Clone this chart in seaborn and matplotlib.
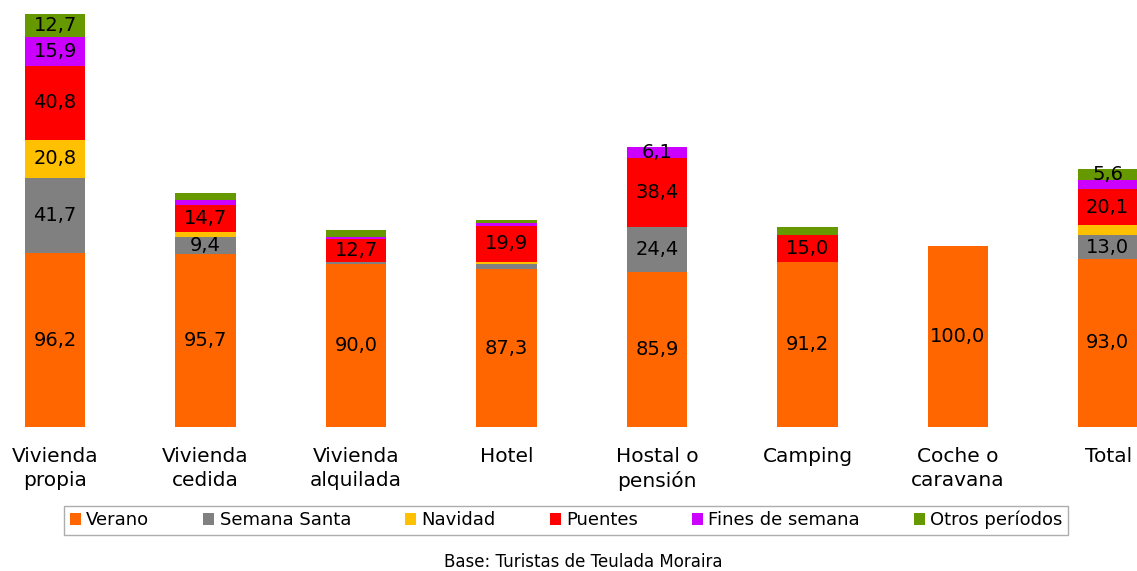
import numpy as np
import pandas as pd
import matplotlib
matplotlib.use("Agg")
import matplotlib.pyplot as plt
import seaborn as sns

categories = ["Vivienda\npropia", "Vivienda\ncedida", "Vivienda\nalquilada", "Hotel",
              "Hostal o\npensión", "Camping", "Coche o\ncaravana", "Total"]
verano = [96.2, 95.7, 90.0, 87.3, 85.9, 91.2, 100.0, 93.0]
semana_santa = [41.7, 9.4, 1.0, 2.6, 24.4, 0.0, 0.0, 13.0]
navidad = [20.8, 2.8, 0.0, 1.5, 0.0, 0.0, 0.0, 5.4]
puentes = [40.8, 14.7, 12.7, 19.9, 38.4, 15.0, 0.0, 20.1]
fines = [15.9, 3.1, 1.5, 1.3, 6.1, 0.0, 0.0, 5.3]
otros = [12.7, 3.6, 3.5, 1.8, 0.0, 4.5, 0.0, 5.6]

series = {
    "Verano": (verano, "#FF6600"),
    "Semana Santa": (semana_santa, "#808080"),
    "Navidad": (navidad, "#FFC000"),
    "Puentes": (puentes, "#FF0000"),
    "Fines de semana": (fines, "#CC00FF"),
    "Otros períodos": (otros, "#669900"),
}

sns.set_theme(style="white")
plt.rcParams['font.family'] = ['DejaVu Sans']
plt.rcParams['text.color'] = 'black'

fig = plt.figure(figsize=(11.37, 5.71), dpi=100)
ax = fig.add_axes([0, 0.252, 1, 0.748])

bottom = np.zeros(len(categories))
for name, (vals, color) in series.items():
    df = pd.DataFrame({"cat": categories, "val": vals})
    sns.barplot(data=df, x="cat", y="val", bottom=bottom, color=color, saturation=1,
                width=0.4, label=name, ax=ax, linewidth=0)
    cont = ax.containers[-1]
    labels = [f"{v:.1f}".replace(".", ",") if v >= 5.55 else "" for v in vals]
    ax.bar_label(cont, labels=labels, label_type="center", fontsize=14, color="black")
    bottom = bottom + np.array(vals)

ax.set_xlim(-0.366, 7.19)
ax.set_ylim(0, 236)
ax.set_xlabel("")
ax.set_ylabel("")
ax.set_yticks([])
ax.tick_params(axis="x", length=0, labelsize=14.5, pad=14, labelcolor="black")
for lbl in ax.get_xticklabels():
    lbl.set_linespacing(1.35)
for s in ax.spines.values():
    s.set_visible(False)

leg = ax.legend(loc="center", bbox_to_anchor=(0.498, 0.089), bbox_transform=fig.transFigure,
                ncol=6, fontsize=13, frameon=True, fancybox=False, edgecolor="#999999",
                handlelength=0.6, handleheight=0.6, handletextpad=0.3, columnspacing=3.0,
                borderpad=0.3, borderaxespad=0, labelcolor="black")
leg.get_frame().set_linewidth(1)

fig.text(0.513, 0.0, "Base: Turistas de Teulada Moraira", ha="center", va="bottom",
         fontsize=12, color="black")

fig.savefig("out.png", dpi=100, facecolor="white")
